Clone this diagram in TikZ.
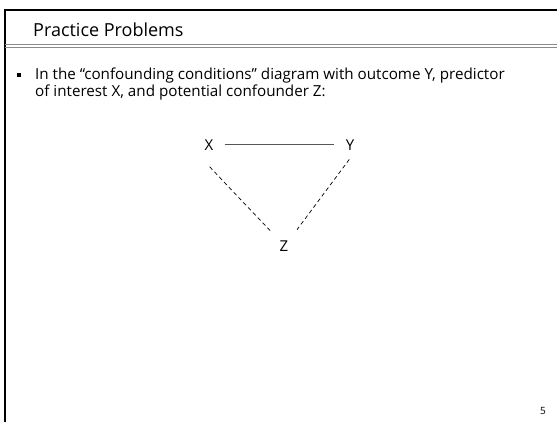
\documentclass[tikz,border=0pt]{standalone}
\usepackage{fontspec}
\setmainfont{Open Sans}
\usetikzlibrary{positioning,calc}
\definecolor{rulegray}{HTML}{8A8A8A}
\definecolor{linkgray}{HTML}{555555}
\tikzset{
  frame/.style={draw, line width=2pt},
  rule/.style={draw=rulegray, line width=1.2pt},
  title/.style={anchor=base west, inner sep=0pt, font=\fontsize{18}{22}\selectfont},
  body/.style={anchor=base west, inner sep=0pt, align=left, font=\fontsize{15.2}{17}\selectfont},
  var/.style={inner sep=2pt, font=\fontsize{15}{17}\selectfont},
  solid link/.style={draw=linkgray, line width=1pt},
  dashed link/.style={draw, dashed, dash pattern=on 4pt off 3pt, line width=0.7pt},
}

\begin{document}
\begin{tikzpicture}[x=1pt, y=-1pt]
  \useasboundingbox (0,0) rectangle (557,422);
  % Slide frame
  \draw[frame] (557,10) -- (5,10) -- (5,422);
  \draw[rule] (5,44.5) -- (557,44.5);
  \draw[rule] (5,47.8) -- (557,47.8);
  \node[title] (head) at (33,37) {Practice Problems};

  % Bullet text
  \node[fill, minimum size=4.5pt, inner sep=0pt] (dot) at (19,75) {};
  \node[body] (text) at (35,97) {In the “confounding conditions” diagram with outcome Y, predictor\\of interest X, and potential confounder Z:};

  % Diagram
  \node[var] (x) at (209,145) {X};
  \node[var] (y) at (350,145) {Y};
  \node[var] (z) at (284,246) {Z};

  \draw[solid link, shorten <=9pt, shorten >=10pt] (x) -- (y);
  \draw[dashed link, shorten <=30pt, shorten >=9pt] ($(x)+(-20,0)$) -- (z.north west);
  \draw[dashed link, shorten <=18pt, shorten >=11pt] ($(y)+(10,0)$) -- (z.north east);

  \node[inner sep=0pt, anchor=base, font=\fontsize{10}{12}\selectfont] (page) at (543,414) {5};
\end{tikzpicture}
\end{document}
